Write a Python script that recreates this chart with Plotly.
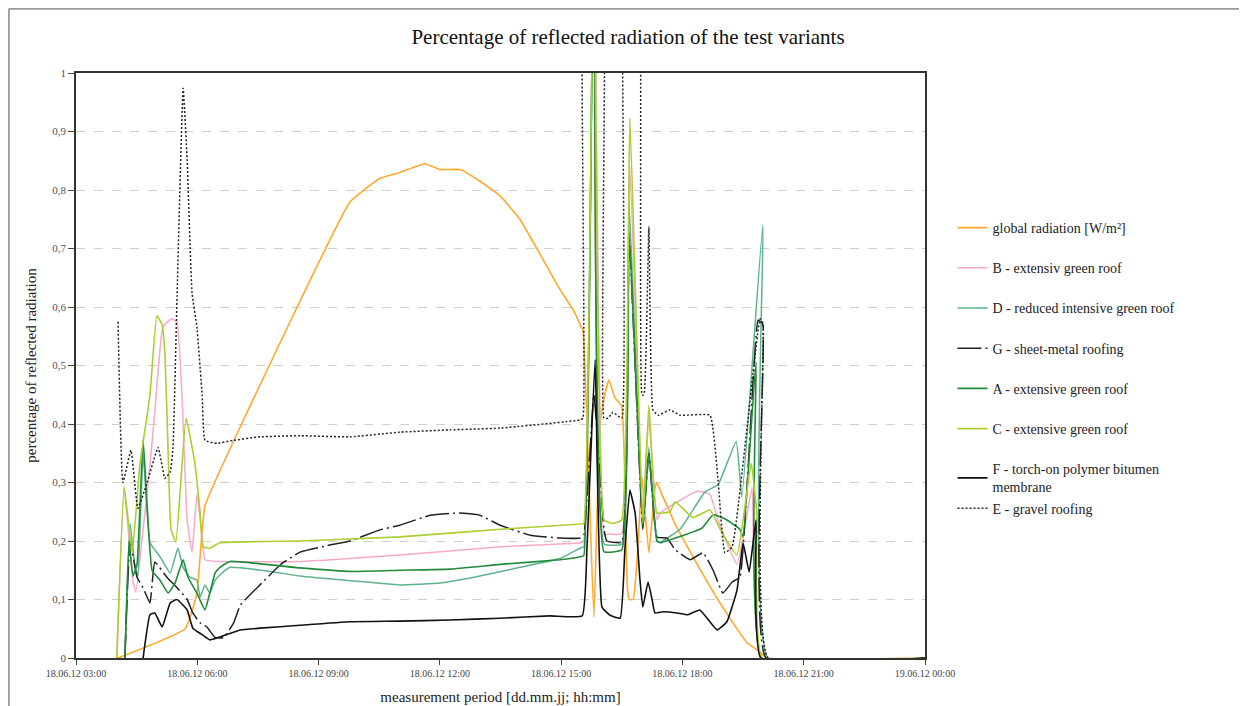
import pandas as pd
import plotly.graph_objects as go

BASE = pd.Timestamp("2012-06-18 00:00")

# ---- data (time in hours after 18.06.12 00:00, values = share of reflected radiation) ----
t_global = [4.04, 5.70, 5.99, 6.19, 7.30, 8.54, 9.78, 10.52, 11.01, 11.63, 12.00, 12.50, 12.99, 13.49,
            13.98, 14.48, 14.97, 15.34, 15.47, 15.54, 15.81, 15.96, 16.08, 16.18, 16.33, 16.50, 16.63,
            16.68, 16.78, 16.90, 17.00, 17.17, 17.32, 17.37, 17.52, 17.69, 17.77, 18.26, 18.76, 19.25,
            19.60, 19.92, 20.09, 24.0]
v_global = [0.0, 0.05, 0.11, 0.26, 0.43, 0.61, 0.78, 0.82, 0.83, 0.845, 0.835, 0.835, 0.815, 0.79,
            0.75, 0.69, 0.63, 0.59, 0.57, 0.56, 0.07, 0.40, 0.45, 0.475, 0.445, 0.43, 0.13,
            0.10, 0.10, 0.19, 0.31, 0.18, 0.29, 0.30, 0.275, 0.25, 0.236, 0.173, 0.113, 0.06,
            0.026, 0.01, 0.0, 0.0]

t_B = [4.01, 4.19, 4.41, 4.48, 4.66, 4.83, 4.95, 5.15, 5.37, 5.50, 5.62, 5.75, 5.87, 5.99, 6.12, 6.19,
       6.56, 8.54, 11.01, 13.49, 15.47, 15.56, 15.81, 16.06, 16.16, 16.50, 16.70, 17.02, 17.17, 17.37,
       17.45, 18.36, 18.68, 18.88, 19.35, 19.72, 19.97, 24.0]
v_B = [0.0, 0.29, 0.13, 0.113, 0.22, 0.33, 0.42, 0.566, 0.58, 0.573, 0.45, 0.236, 0.18, 0.28, 0.207, 0.168,
       0.165, 0.165, 0.176, 0.19, 0.197, 0.2, 1.3, 0.21, 0.212, 0.212, 0.84, 0.25, 0.41, 0.236,
       0.248, 0.285, 0.28, 0.236, 0.16, 0.29, 0.0, 0.0]

t_D = [4.21, 4.34, 4.46, 4.53, 4.66, 4.83, 5.08, 5.33, 5.52, 5.65, 5.82, 5.99, 6.07, 6.19, 6.31, 6.44,
       6.56, 6.81, 7.80, 8.54, 9.78, 11.01, 12.00, 12.99, 13.98, 14.97, 15.47, 15.56, 15.81, 16.06,
       16.50, 16.68, 17.02, 17.17, 17.37, 17.45, 17.94, 18.56, 18.88, 19.33, 19.47, 19.99, 20.12, 24.0]
v_D = [0.0, 0.23, 0.155, 0.14, 0.35, 0.197, 0.173, 0.145, 0.188, 0.155, 0.138, 0.133, 0.104, 0.125, 0.111, 0.133,
       0.142, 0.155, 0.148, 0.14, 0.132, 0.125, 0.128, 0.14, 0.155, 0.17, 0.188, 0.19, 1.3, 0.195,
       0.195, 0.778, 0.23, 0.36, 0.2, 0.198, 0.22, 0.284, 0.296, 0.37, 0.275, 0.74, 0.0, 0.0]

t_G = [4.21, 4.34, 4.51, 4.66, 4.83, 4.95, 5.25, 5.50, 5.75, 5.89, 6.07, 6.24, 6.44, 6.65, 6.90, 7.06,
       7.55, 8.05, 8.54, 9.28, 9.78, 10.52, 11.01, 11.76, 12.50, 12.99, 13.49, 14.23, 14.97, 15.47,
       15.56, 15.81, 16.06, 16.13, 16.50, 16.68, 17.02, 17.17, 17.37, 17.62, 17.82, 18.19, 18.51,
       18.76, 19.00, 19.23, 19.42, 19.87, 19.99, 20.07, 24.0]
v_G = [0.0, 0.2, 0.138, 0.12, 0.094, 0.164, 0.138, 0.12, 0.1, 0.077, 0.06, 0.053, 0.035, 0.035, 0.06, 0.09,
       0.125, 0.159, 0.181, 0.193, 0.2, 0.219, 0.227, 0.244, 0.248, 0.244, 0.227, 0.21, 0.205, 0.205,
       0.21, 0.45, 0.22, 0.2, 0.198, 0.72, 0.22, 0.35, 0.207, 0.205, 0.185, 0.168, 0.18,
       0.15, 0.111, 0.13, 0.138, 0.578, 0.57, 0.0, 0.0]

t_A = [4.21, 4.31, 4.41, 4.51, 4.66, 4.88, 5.08, 5.28, 5.45, 5.65, 5.77, 5.99, 6.19, 6.31, 6.44, 6.56,
       6.81, 8.54, 9.78, 11.01, 12.25, 13.49, 14.97, 15.47, 15.56, 15.81, 16.06, 16.50, 16.68, 17.02,
       17.17, 17.37, 17.45, 18.48, 18.76, 19.10, 19.42, 19.50, 19.82, 19.97, 24.0]
v_A = [0.0, 0.2, 0.14, 0.16, 0.373, 0.15, 0.133, 0.111, 0.128, 0.168, 0.138, 0.111, 0.082, 0.111, 0.145, 0.155,
       0.165, 0.154, 0.148, 0.15, 0.152, 0.16, 0.168, 0.173, 0.175, 1.3, 0.182, 0.185, 0.728, 0.225,
       0.35, 0.2, 0.197, 0.222, 0.245, 0.236, 0.22, 0.207, 0.506, 0.0, 0.0]

t_C = [4.01, 4.19, 4.39, 4.58, 4.83, 5.00, 5.13, 5.20, 5.28, 5.35, 5.47, 5.72, 5.94, 6.07, 6.14, 6.31,
       6.56, 8.54, 11.01, 13.49, 15.47, 15.56, 15.81, 16.06, 16.28, 16.50, 16.70, 17.02, 17.17, 17.37,
       17.69, 17.82, 18.26, 18.68, 18.98, 19.35, 19.70, 19.84, 19.97, 24.0]
v_C = [0.0, 0.293, 0.18, 0.33, 0.45, 0.585, 0.57, 0.52, 0.35, 0.22, 0.198, 0.41, 0.333, 0.248, 0.19, 0.188,
       0.197, 0.2, 0.207, 0.22, 0.229, 0.23, 1.3, 0.236, 0.23, 0.236, 0.923, 0.23, 0.432, 0.248,
       0.25, 0.267, 0.24, 0.253, 0.214, 0.176, 0.333, 0.248, 0.0, 0.0]

t_F = [4.66, 4.83, 4.95, 5.13, 5.33, 5.50, 5.75, 5.89, 6.14, 6.31, 6.56, 7.06, 7.55, 8.54, 9.78, 11.01,
       12.25, 13.49, 14.72, 15.52, 15.64, 15.84, 16.01, 16.21, 16.46, 16.58, 16.70, 16.83, 16.95, 17.02,
       17.15, 17.25, 17.32, 17.52, 17.87, 18.14, 18.43, 18.86, 19.10, 19.35, 19.50, 19.65, 19.82, 19.94, 24.0]
v_F = [0.0, 0.074, 0.077, 0.053, 0.094, 0.1, 0.082, 0.051, 0.039, 0.031, 0.036, 0.048, 0.051, 0.056, 0.062, 0.063,
       0.065, 0.068, 0.072, 0.072, 0.19, 0.51, 0.087, 0.073, 0.068, 0.19, 0.287, 0.248, 0.133, 0.087,
       0.13, 0.1, 0.077, 0.079, 0.077, 0.074, 0.082, 0.048, 0.062, 0.116, 0.197, 0.147, 0.236, 0.0, 0.0]

t_E = [4.04, 4.16, 4.36, 4.53, 4.76, 5.03, 5.20, 5.33, 5.40, 5.50, 5.65, 5.75, 5.87, 5.99, 6.12, 6.19,
       6.49, 6.88, 7.55, 8.54, 9.78, 11.01, 12.25, 13.49, 15.47, 15.54, 15.61, 15.99, 16.06, 16.16,
       16.28, 16.50, 16.58, 16.85, 17.00, 17.05, 17.17, 17.27, 17.40, 17.69, 17.94, 18.68, 18.88,
       19.05, 19.23, 19.92, 19.99, 20.12, 24.0]
v_E = [0.575, 0.30, 0.355, 0.256, 0.30, 0.36, 0.307, 0.318, 0.36, 0.62, 0.974, 0.85, 0.624, 0.566, 0.45, 0.372,
       0.367, 0.372, 0.378, 0.38, 0.378, 0.386, 0.39, 0.393, 0.407, 0.41, 1.5, 1.5, 0.41, 0.41,
       0.42, 0.41, 1.5, 1.5, 0.45, 0.45, 0.737, 0.424, 0.415, 0.424, 0.415, 0.415, 0.304,
       0.18, 0.19, 0.58, 0.573, 0.0, 0.0]

series_names = ["global radiation [W/m²]", "B - extensiv green roof", "D - reduced intensive green roof",
                "G - sheet-metal roofing", "A - extensive green roof", "C - extensive green roof",
                "F - torch-on polymer bitumen<br>membrane", "E - gravel roofing"]

x_tick_hours = [3, 6, 9, 12, 15, 18, 21, 24]
x_tick_text = ["18.06.12 03:00", "18.06.12 06:00", "18.06.12 09:00", "18.06.12 12:00",
               "18.06.12 15:00", "18.06.12 18:00", "18.06.12 21:00", "19.06.12 00:00"]
y_tick_vals = [0, 0.1, 0.2, 0.3, 0.4, 0.5, 0.6, 0.7, 0.8, 0.9, 1]
y_tick_text = ["0", "0,1", "0,2", "0,3", "0,4", "0,5", "0,6", "0,7", "0,8", "0,9", "1"]


def to_time(hours):
    return BASE + pd.to_timedelta(hours, unit="h")


styles = [
    ("#FFA82E", "solid", 1.6, "g1"),
    ("#F7A9C8", "solid", 1.5, "g2"),
    ("#5DB48C", "solid", 1.5, "g3"),
    ("#222222", "24px,4px,2px,4px", 1.5, "g4"),
    ("#228B3B", "solid", 1.6, "g5"),
    ("#ABCF2F", "solid", 1.6, "g6"),
    ("#111111", "solid", 1.6, "g7"),
    ("#222222", "2px,2px", 1.5, "g7"),
]
data_pairs = [(t_global, v_global), (t_B, v_B), (t_D, v_D), (t_G, v_G),
              (t_A, v_A), (t_C, v_C), (t_F, v_F), (t_E, v_E)]

FONT = "Liberation Serif"
W, H = 1239, 698
L, T, R, B = 68, 65, 322, 48

fig = go.Figure()
for name, (t, v), (col, dash, w, grp) in zip(series_names, data_pairs, styles):
    fig.add_trace(go.Scatter(
        x=to_time(t), y=v, name=name, mode="lines", legendgroup=grp,
        line=dict(color=col, dash=dash, width=w, shape="spline", smoothing=0.35),
    ))

fig.update_layout(
    width=W, height=H,
    margin=dict(l=L, r=R, t=T, b=B, autoexpand=False),
    paper_bgcolor="white", plot_bgcolor="white",
    font=dict(family=FONT, color="#222"),
    title=dict(text="Percentage of reflected radiation of the test variants",
               x=620 / W, xref="container", xanchor="center",
               y=1 - 29 / H, yref="container", yanchor="middle",
               font=dict(family=FONT, size=21, color="#111")),
    legend=dict(x=1.0324, xanchor="left", y=0.7624, yanchor="top",
                font=dict(family=FONT, size=14, color="#222"),
                tracegroupgap=19, groupclick="toggleitem",
                bgcolor="rgba(0,0,0,0)"),
    showlegend=True,
)
fig.update_xaxes(
    type="date", automargin=False,
    range=[to_time(3), to_time(24)],
    tickvals=to_time(x_tick_hours), ticktext=x_tick_text,
    tickfont=dict(family=FONT, size=10, color="#444"),
    ticks="outside", ticklen=5, tickcolor="#444",
    showline=True, linecolor="#333", linewidth=1.5, mirror=True,
    showgrid=False, zeroline=False,
    title=dict(text="measurement period [dd.mm.jj; hh:mm]",
               font=dict(family=FONT, size=15, color="#222"), standoff=14),
)
fig.update_yaxes(
    range=[0, 1], automargin=False,
    tickvals=y_tick_vals, ticktext=y_tick_text,
    tickfont=dict(family=FONT, size=11, color="#555"),
    ticks="outside", ticklen=6, tickcolor="#444",
    showline=True, linecolor="#333", linewidth=1.5, mirror=True,
    showgrid=True, gridcolor="#cfcfcf", griddash="dash", gridwidth=1,
    zeroline=False,
    title=dict(text="percentage of reflected radiation",
               font=dict(family=FONT, size=15, color="#222"), standoff=12),
)
# outer frame of the chart area (grey border, top and left)
px_x = (0.8 - L) / (W - L - R)
px_y = ((H - B) - 0.8) / (H - T - B)
fig.add_shape(type="line", xref="paper", yref="paper", x0=px_x, x1=px_x, y0=-0.2, y1=px_y,
              line=dict(color="#9a9a9a", width=2))
fig.add_shape(type="line", xref="paper", yref="paper", x0=px_x, x1=1.5, y0=px_y, y1=px_y,
              line=dict(color="#9a9a9a", width=2))

fig.write_html("out.html")
